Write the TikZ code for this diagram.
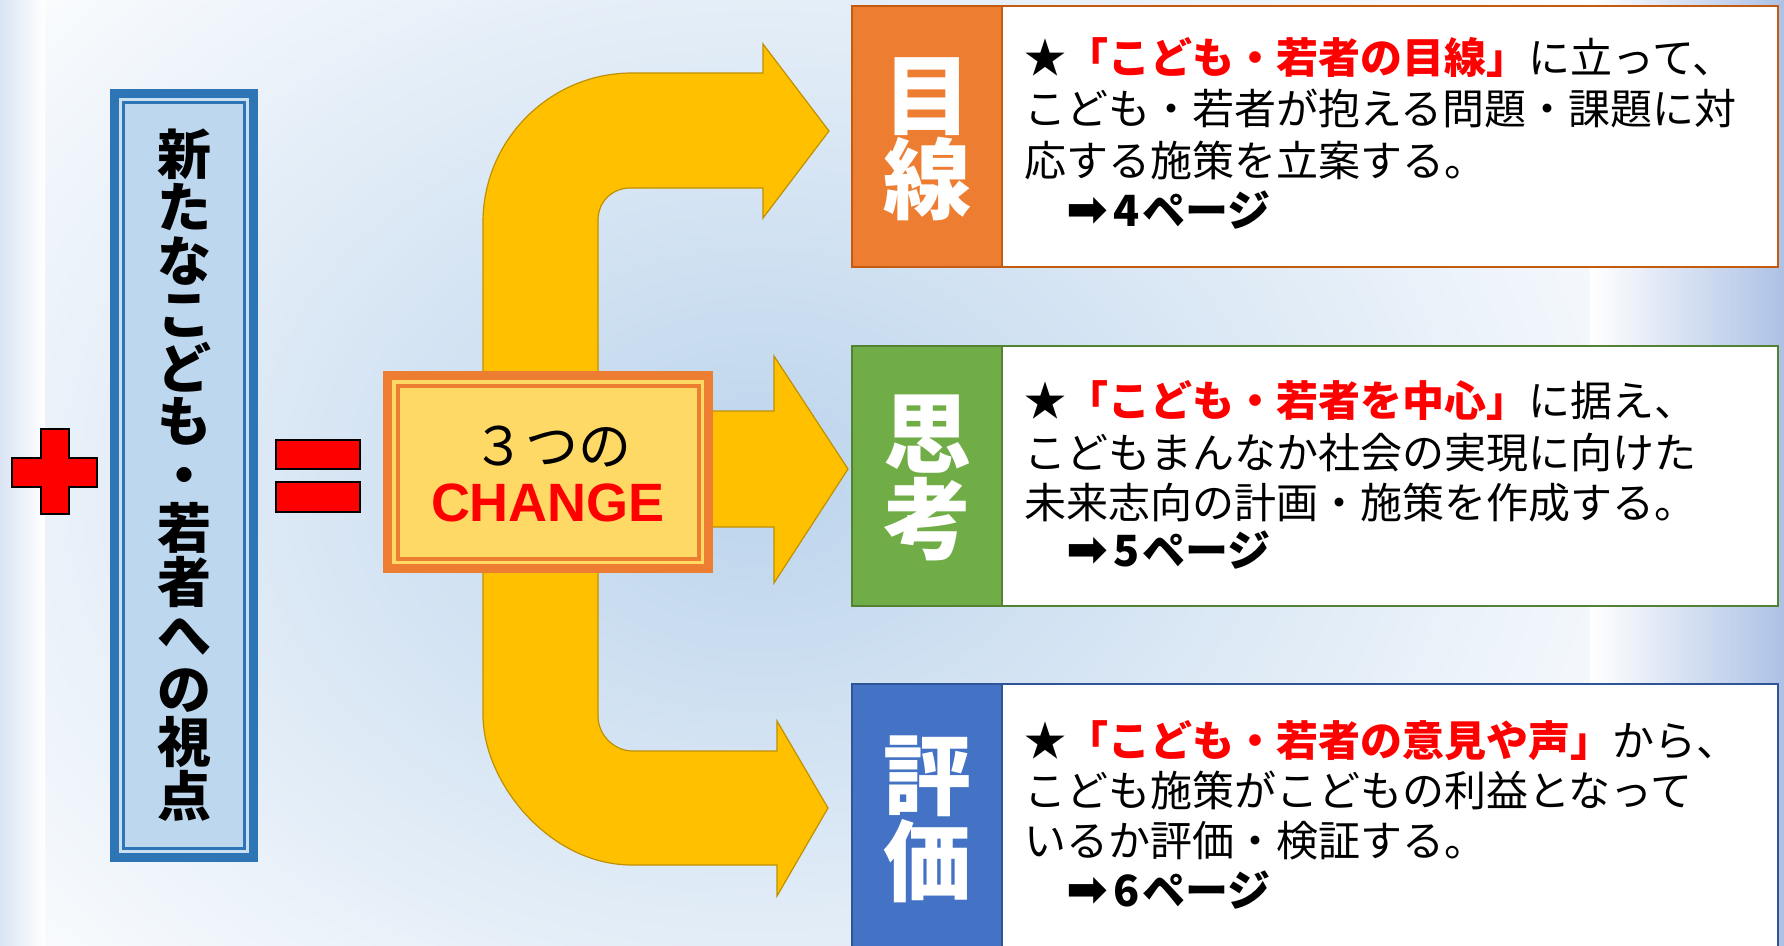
\documentclass[tikz,border=0pt]{standalone}
\usepackage{fontspec}
\newfontfamily\jp{Noto Sans CJK JP}
\newfontfamily\dejavu{DejaVu Sans}
\newfontfamily\lib{Liberation Sans}
\definecolor{gold}{HTML}{FFC000}
\definecolor{goldline}{HTML}{BF9000}
\definecolor{orangeA}{HTML}{ED7D31}
\definecolor{orangeB}{HTML}{C55A11}
\definecolor{yel}{HTML}{FFD966}
\definecolor{greenA}{HTML}{70AD47}
\definecolor{greenB}{HTML}{548235}
\definecolor{blueA}{HTML}{4472C4}
\definecolor{blueB}{HTML}{2F5597}
\definecolor{blueC}{HTML}{2E75B6}
\definecolor{lblue}{HTML}{BDD7EE}
\definecolor{bgc}{HTML}{BCD4EC}
\definecolor{edgeL}{HTML}{DAE4F3}
\definecolor{edgeR}{HTML}{ADC1E5}
\definecolor{redA}{HTML}{FF0000}
\newcommand\pgarrow{{\dejavu\fontsize{50}{50}\selectfont ➡}\kern5pt}
\begin{document}
\lineskiplimit=-100pt\relax
\begin{tikzpicture}[x=1pt,y=-1pt,
  body/.style={anchor=base west, inner sep=0pt, font=\jp\fontsize{42}{50}\selectfont},
  pagetxt/.style={anchor=base west, inner sep=0pt, font=\jp\bfseries\fontsize{43}{50}\selectfont},
  tabtxt/.style={anchor=base, inner sep=0pt, text=white, font=\jp\bfseries\fontsize{88}{90}\selectfont},
  redsign/.style={fill=redA, draw=black, line width=2pt},
  arrowshape/.style={fill=gold, draw=goldline, line width=1.2pt},
]
\useasboundingbox (0,0) rectangle (1784,945);
\clip (0,0) rectangle (1784,945);
% background
\fill[white] (0,0) rectangle (1784,945);
\shade[inner color=bgc, outer color=white] (-287,-312) rectangle (1807,1272);
\shade[left color=edgeL, right color=white] (0,0) rectangle (45,945);
\shade[left color=white, right color=edgeR] (1590,0) rectangle (1784,945);

% plus sign
\draw[redsign] (41,429) -- (69,429) -- (69,458) -- (97,458) -- (97,487) -- (69,487)
  -- (69,514) -- (41,514) -- (41,487) -- (12,487) -- (12,458) -- (41,458) -- cycle;

% left box
\fill[blueC] (110,89) rectangle (258,862);
\fill[lblue!80!white] (119,98) rectangle (249,853);
\fill[lblue] (124,103) rectangle (244,848);
\draw[blueC, line width=2.5pt] (123.5,102.5) rectangle (244.5,848.5);
\node[inner sep=0pt, align=center,
  font=\jp\bfseries\fontsize{54}{53.5}\selectfont]
  (view) at (184,475) {新\\た\\な\\こ\\ど\\も\\・\\若\\者\\へ\\の\\視\\点};

% equals sign
\draw[redsign] (276,440) rectangle (360,469);
\draw[redsign] (276,482) rectangle (360,512);

% big bent arrows
\path[arrowshape] (763,73) -- (763,44) -- (829,131) -- (763,218) -- (763,188) -- (630,188)
  .. controls (612,188) and (598,202) .. (598,220) -- (598,411) -- (774,411) -- (774,356)
  -- (848,469) -- (774,583) -- (774,527) -- (598,527) -- (598,716)
  .. controls (598,735) and (614,751) .. (633,751) -- (777,751) -- (777,721) -- (828,808)
  -- (777,896) -- (777,865) -- (632,865)
  .. controls (549,865) and (483,782) .. (483,715) -- (483,222)
  .. controls (483,140) and (550,73) .. (632,73) -- cycle;

% change box
\fill[orangeA] (383,371) rectangle (713,573);
\fill[yel] (392,380) rectangle (704,564);
\draw[orangeA, line width=4pt] (397.5,385.5) rectangle (698.5,558.5);
\node[anchor=base, inner sep=0pt, font=\jp\fontsize{53}{56}\selectfont] (three) at (552,465) {３つの};
\node[anchor=base, inner sep=0pt, text=redA, font=\lib\bfseries\fontsize{54}{58}\selectfont] (change) at (548,521) {CHANGE};

% box 1
\fill[white] (852,6) rectangle (1778,267);
\fill[orangeA] (852,6) rectangle (1002,267);
\draw[orangeB, line width=1.5pt] (1002,6) -- (1002,267);
\draw[orangeB, line width=2.5pt] (852,6) rectangle (1778,267);
\node[tabtxt] (m1) at (927,128) {目};
\node[tabtxt] (m2) at (927,212) {線};
\node[body] (a1) at (1024,73) {★{\bfseries\color{redA}「こども・若者の目線」}に立って、};
\node[body] (a2) at (1024,124) {こども・若者が抱える問題・課題に対};
\node[body] (a3) at (1024,176) {応する施策を立案する。};
\node[pagetxt] (a4) at (1066,226) {\pgarrow 4\kern3pt ページ};

% box 2
\fill[white] (852,346) rectangle (1778,606);
\fill[greenA] (852,346) rectangle (1002,606);
\draw[greenB, line width=1.5pt] (1002,346) -- (1002,606);
\draw[greenB, line width=2.5pt] (852,346) rectangle (1778,606);
\node[tabtxt] (s1) at (927,466) {思};
\node[tabtxt] (s2) at (927,552) {考};
\node[body] (b1) at (1024,416) {★{\bfseries\color{redA}「こども・若者を中心」}に据え、};
\node[body] (b2) at (1024,468) {こどもまんなか社会の実現に向けた};
\node[body] (b3) at (1024,518) {未来志向の計画・施策を作成する。};
\node[pagetxt] (b4) at (1066,566) {\pgarrow 5\kern3pt ページ};

% box 3
\fill[white] (852,684) rectangle (1778,960);
\fill[blueA] (852,684) rectangle (1002,960);
\draw[blueB, line width=1.5pt] (1002,684) -- (1002,960);
\draw[blueB, line width=2.5pt] (852,960) -- (852,684) -- (1778,684) -- (1778,960);
\node[tabtxt] (h1) at (927,808) {評};
\node[tabtxt] (h2) at (927,894) {価};
\node[body] (c1) at (1024,756) {★{\bfseries\color{redA}「こども・若者の意見や声」}から、};
\node[body] (c2) at (1024,806) {こども施策がこどもの利益となって};
\node[body] (c3) at (1024,856) {いるか評価・検証する。};
\node[pagetxt] (c4) at (1066,906) {\pgarrow 6\kern3pt ページ};
\end{tikzpicture}
\end{document}
